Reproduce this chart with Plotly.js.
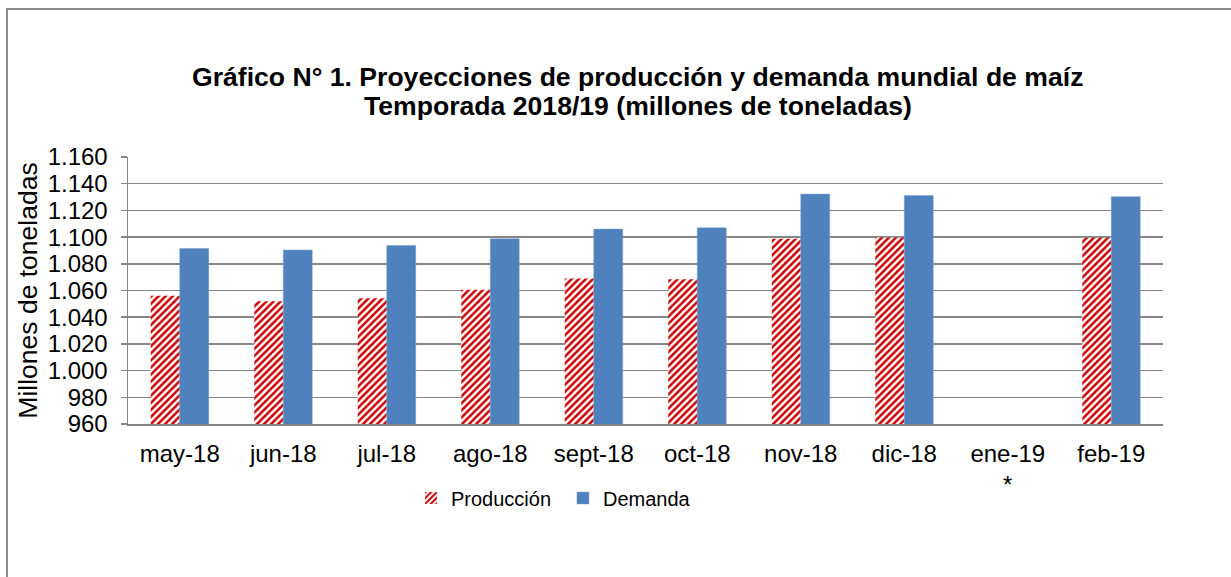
<!DOCTYPE html>
<html>
<head>
<meta charset="utf-8">
<script src="https://cdn.plot.ly/plotly-3.0.1.min.js"></script>
<style>
  html, body { margin: 0; padding: 0; background: #fff; }
  #frame { position: absolute; left: 6px; top: 8px; width: 1400px; height: 800px; border: 2px solid #8c8c8c; box-sizing: border-box; }
  #chart { position: absolute; left: 0; top: 0; width: 1231px; height: 577px; }
</style>
</head>
<body>
<div id="frame"></div>
<div id="chart"></div>
<script>
const categories = ["may-18", "jun-18", "jul-18", "ago-18", "sept-18", "oct-18", "nov-18", "dic-18", "ene-19<br>*", "feb-19"];
const produccion = [1056, 1052, 1054.2, 1060.5, 1069, 1068.5, 1098.8, 1099.7, null, 1099.5];
const demanda = [1091.5, 1090.3, 1093.8, 1098.8, 1106, 1107, 1132.2, 1131.2, null, 1130.3];
const yTicks = [960, 980, 1000, 1020, 1040, 1060, 1080, 1100, 1120, 1140, 1160];
const titleLines = ["Gráfico N° 1. Proyecciones de producción y demanda mundial de maíz", "Temporada 2018/19 (millones de toneladas)"];

const FONT = "Liberation Sans, Arial, sans-serif";
const H = 577, T = 157, B = 153;
const plotH = H - T - B;
function paperY(px) { return (H - B - px) / plotH; }

const traces = [
  {
    type: "bar", name: "Producción", x: categories, y: produccion,
    marker: {
      color: "#ffffff",
      pattern: { shape: "/", fgcolor: "#cc0000", bgcolor: "#ffffff", size: 5, solidity: 0.5 },
      line: { width: 0 }
    },
    hoverinfo: "x+y"
  },
  {
    type: "bar", name: "Demanda", x: categories, y: demanda,
    marker: { color: "#4f81bd", line: { color: "#7aa0d0", width: 0.5 } },
    hoverinfo: "x+y"
  }
];

const layout = {
  width: 1231, height: 577,
  margin: { l: 128, r: 68, t: T, b: B },
  paper_bgcolor: "rgba(0,0,0,0)",
  plot_bgcolor: "rgba(0,0,0,0)",
  separators: ",.",
  barmode: "group",
  bargap: 0.44,
  bargroupgap: 0,
  font: { family: FONT, color: "#000" },
  annotations: [
    { text: "<b>" + titleLines[0] + "</b>", xref: "paper", yref: "paper", x: 0.4923, y: paperY(77),
      xanchor: "center", yanchor: "middle", showarrow: false, font: { family: FONT, size: 26.6, color: "#000" } },
    { text: "<b>" + titleLines[1] + "</b>", xref: "paper", yref: "paper", x: 0.4923, y: paperY(106),
      xanchor: "center", yanchor: "middle", showarrow: false, font: { family: FONT, size: 26.6, color: "#000" } }
  ],
  xaxis: {
    type: "category",
    tickfont: { family: FONT, size: 24, color: "#000" },
    showline: true, linecolor: "#868686", linewidth: 2,
    ticks: "", ticklabelstandoff: 7,
    showgrid: false, fixedrange: true
  },
  yaxis: {
    range: [960, 1160],
    tickvals: yTicks,
    tickformat: ",d",
    tickfont: { family: FONT, size: 24, color: "#000" },
    showline: true, linecolor: "#868686", linewidth: 1.5,
    ticks: "outside", ticklen: 6, tickcolor: "#868686", tickwidth: 1.5,
    ticklabelstandoff: 8,
    showgrid: true, gridcolor: "#868686", gridwidth: 1.5,
    zeroline: false, fixedrange: true,
    title: { text: "Millones de toneladas", font: { family: FONT, size: 26.5, color: "#000" }, standoff: 2 }
  },
  showlegend: true,
  legend: {
    orientation: "h",
    x: 0.2734, xanchor: "left",
    y: paperY(498), yanchor: "middle",
    font: { family: FONT, size: 20, color: "#000" },
    traceorder: "normal",
    itemwidth: 30,
    entrywidth: 107, entrywidthmode: "pixels"
  }
};

Plotly.newPlot("chart", traces, layout, { displayModeBar: false, staticPlot: true });
</script>
</body>
</html>
